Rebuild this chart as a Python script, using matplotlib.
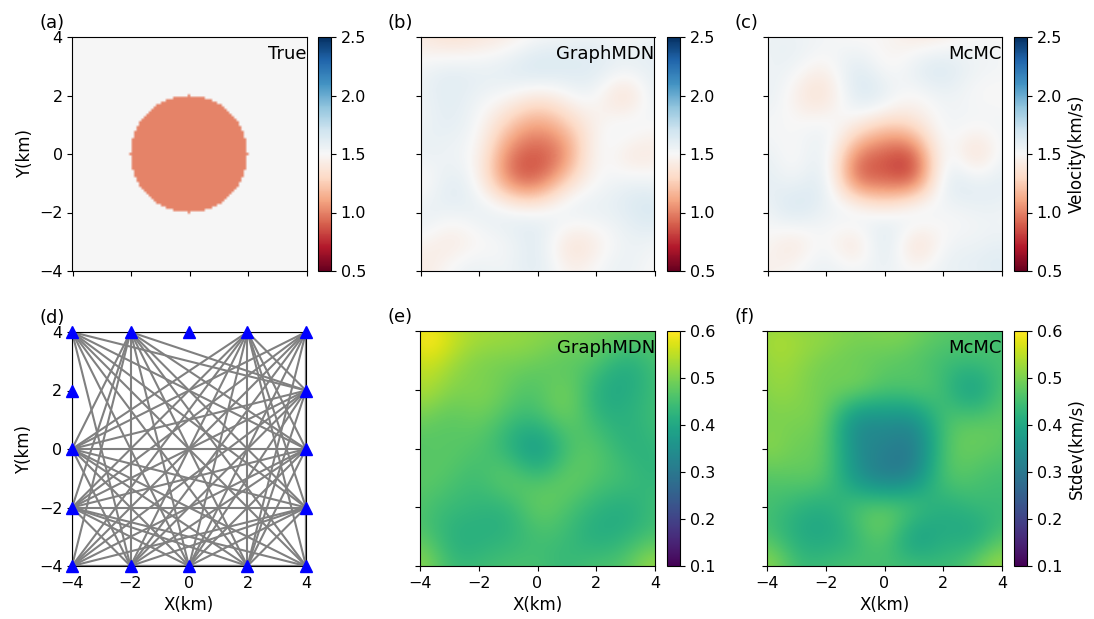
import numpy as np
import matplotlib
matplotlib.use('Agg')
import matplotlib.pyplot as plt
from itertools import combinations

# true model: circular low-velocity anomaly in a constant background
bg_vel = 1.5
anom_vel = 1.0
anom_radius = 2.0
n_true = 97

# node coordinates of the coarse grids below (km), rows go from y=4 down to y=-4
nodes = [-4, -3, -2, -1, 0, 1, 2, 3, 4]

mdn_mean = [
    [1.42, 1.38, 1.40, 1.45, 1.52, 1.55, 1.55, 1.52, 1.55],
    [1.52, 1.55, 1.55, 1.58, 1.62, 1.62, 1.60, 1.55, 1.58],
    [1.55, 1.60, 1.55, 1.48, 1.42, 1.48, 1.50, 1.42, 1.55],
    [1.55, 1.58, 1.48, 1.25, 1.12, 1.25, 1.45, 1.50, 1.50],
    [1.55, 1.55, 1.42, 1.05, 0.92, 1.12, 1.45, 1.46, 1.44],
    [1.50, 1.58, 1.45, 1.12, 1.05, 1.30, 1.50, 1.55, 1.55],
    [1.55, 1.55, 1.55, 1.50, 1.48, 1.52, 1.55, 1.60, 1.63],
    [1.48, 1.45, 1.50, 1.55, 1.58, 1.44, 1.46, 1.55, 1.55],
    [1.43, 1.50, 1.55, 1.55, 1.58, 1.47, 1.50, 1.55, 1.50],
]

mcmc_mean = [
    [1.55, 1.55, 1.52, 1.50, 1.48, 1.44, 1.46, 1.50, 1.50],
    [1.55, 1.52, 1.48, 1.58, 1.52, 1.55, 1.60, 1.55, 1.52],
    [1.55, 1.45, 1.42, 1.58, 1.55, 1.50, 1.55, 1.52, 1.50],
    [1.52, 1.50, 1.50, 1.40, 1.28, 1.32, 1.50, 1.50, 1.52],
    [1.55, 1.52, 1.50, 1.10, 0.93, 1.00, 1.45, 1.43, 1.52],
    [1.58, 1.58, 1.52, 1.12, 1.00, 1.08, 1.50, 1.57, 1.58],
    [1.55, 1.60, 1.55, 1.48, 1.45, 1.48, 1.52, 1.55, 1.55],
    [1.48, 1.46, 1.50, 1.46, 1.57, 1.44, 1.50, 1.55, 1.57],
    [1.46, 1.50, 1.55, 1.52, 1.55, 1.50, 1.55, 1.58, 1.60],
]

mdn_std = [
    [0.58, 0.56, 0.53, 0.52, 0.51, 0.50, 0.49, 0.48, 0.47],
    [0.56, 0.54, 0.51, 0.50, 0.49, 0.48, 0.46, 0.43, 0.45],
    [0.53, 0.51, 0.50, 0.48, 0.47, 0.48, 0.43, 0.41, 0.44],
    [0.49, 0.48, 0.48, 0.45, 0.44, 0.47, 0.44, 0.42, 0.44],
    [0.47, 0.47, 0.46, 0.43, 0.40, 0.45, 0.46, 0.43, 0.43],
    [0.47, 0.46, 0.45, 0.46, 0.45, 0.47, 0.46, 0.44, 0.43],
    [0.46, 0.44, 0.43, 0.44, 0.47, 0.46, 0.43, 0.42, 0.44],
    [0.47, 0.43, 0.42, 0.43, 0.45, 0.44, 0.42, 0.43, 0.46],
    [0.50, 0.45, 0.44, 0.45, 0.45, 0.44, 0.45, 0.47, 0.51],
]

mcmc_std = [
    [0.52, 0.52, 0.51, 0.50, 0.50, 0.49, 0.47, 0.46, 0.45],
    [0.52, 0.52, 0.50, 0.49, 0.48, 0.47, 0.45, 0.44, 0.45],
    [0.51, 0.51, 0.49, 0.47, 0.45, 0.45, 0.44, 0.41, 0.45],
    [0.50, 0.50, 0.47, 0.38, 0.36, 0.37, 0.44, 0.46, 0.47],
    [0.50, 0.49, 0.46, 0.36, 0.32, 0.33, 0.44, 0.48, 0.47],
    [0.47, 0.47, 0.45, 0.38, 0.34, 0.36, 0.44, 0.46, 0.45],
    [0.45, 0.43, 0.42, 0.44, 0.45, 0.43, 0.42, 0.43, 0.44],
    [0.46, 0.42, 0.41, 0.44, 0.46, 0.41, 0.41, 0.42, 0.46],
    [0.50, 0.45, 0.44, 0.45, 0.45, 0.44, 0.44, 0.47, 0.51],
]

# receivers around the boundary; the two listed in 'silent' record no rays
stations_x = [-4, -2, 0, 2, 4, 4, 4, 4, 4, 2, 0, -2, -4, -4, -4, -4]
stations_y = [4, 4, 4, 4, 4, 2, 0, -2, -4, -4, -4, -4, -4, -2, 0, 2]
silent = [(0, 4), (-4, 2)]

vel_ticks = [0.5, 1.0, 1.5, 2.0, 2.5]
std_ticks = [0.1, 0.2, 0.3, 0.4, 0.5, 0.6]
km_ticks = [-4, -2, 0, 2, 4]

W, H = 1094, 619
fig = plt.figure(figsize=(W / 100, H / 100), dpi=100)


def smooth_field(grid, n=240, s=0.78):
    # gaussian rbf through the node values, evaluated on a fine grid
    z = np.array(grid)[::-1].ravel()
    nx, ny = np.meshgrid(nodes, nodes)
    px, py = nx.ravel().astype(float), ny.ravel().astype(float)
    d2 = (px[:, None] - px[None, :])**2 + (py[:, None] - py[None, :])**2
    base = z.mean()
    w = np.linalg.solve(np.exp(-d2 / (2 * s * s)), z - base)
    f = np.linspace(-4, 4, n)
    fx, fy = np.meshgrid(f, f)
    e2 = (fx.ravel()[:, None] - px[None, :])**2 + (fy.ravel()[:, None] - py[None, :])**2
    return (np.exp(-e2 / (2 * s * s)) @ w + base).reshape(n, n)


def px_axes(l, t, r, b):
    return fig.add_axes([l / W, (H - b) / H, (r - l) / W, (b - t) / H])


def style(ax, ylab, xlab):
    ax.set_xlim(-4, 4)
    ax.set_ylim(-4, 4)
    ax.set_xticks(km_ticks)
    ax.set_yticks(km_ticks)
    ax.tick_params(labelsize=11.5)
    if not ylab:
        ax.set_yticklabels([])
    else:
        ax.set_ylabel('Y(km)', fontsize=12)
    if not xlab:
        ax.set_xticklabels([])
    else:
        ax.set_xlabel('X(km)', fontsize=12)


def tag(ax, letter, name=None):
    ax.text(-0.14, 1.02, letter, transform=ax.transAxes, fontsize=13,
            ha='left', va='bottom')
    if name:
        ax.text(1.0, 0.965, name, transform=ax.transAxes, fontsize=13,
                ha='right', va='top')


def cbar(im, l, t, r, b, ticks, label=None):
    cax = px_axes(l, t, r, b)
    cb = fig.colorbar(im, cax=cax, ticks=ticks)
    cb.ax.tick_params(labelsize=11.5)
    if label:
        cb.set_label(label, fontsize=12)
    return cb


def field(ax, grid, cmap, vmin, vmax):
    return ax.imshow(smooth_field(grid), origin='lower', cmap=cmap,
                     vmin=vmin, vmax=vmax, extent=[-4, 4, -4, 4],
                     interpolation='bilinear')


# (a) true model
g = np.linspace(-4, 4, n_true)
gx, gy = np.meshgrid(g, g)
true_v = np.where(gx**2 + gy**2 <= anom_radius**2, anom_vel, bg_vel)
dx = g[1] - g[0]
ax = px_axes(72, 37, 307, 271)
im = ax.imshow(true_v, origin='lower', cmap='RdBu', vmin=0.5, vmax=2.5,
               extent=[-4 - dx / 2, 4 + dx / 2, -4 - dx / 2, 4 + dx / 2],
               interpolation='bilinear')
style(ax, True, False)
tag(ax, '(a)', 'True')
cbar(im, 318, 37, 331, 271, vel_ticks)

# (b) GraphMDN mean
ax = px_axes(420, 37, 655, 271)
im = field(ax, mdn_mean, 'RdBu', 0.5, 2.5)
style(ax, False, False)
tag(ax, '(b)', 'GraphMDN')
cbar(im, 667, 37, 680, 271, vel_ticks)

# (c) McMC mean
ax = px_axes(767, 37, 1002, 271)
im = field(ax, mcmc_mean, 'RdBu', 0.5, 2.5)
style(ax, False, False)
tag(ax, '(c)', 'McMC')
cbar(im, 1014, 37, 1027, 271, vel_ticks, 'Velocity(km/s)')

# (d) ray paths
ax = px_axes(71, 332, 307, 566)
active = [(x, y) for x, y in zip(stations_x, stations_y) if (x, y) not in silent]
for (x0, y0), (x1, y1) in combinations(active, 2):
    ax.plot([x0, x1], [y0, y1], color='gray', lw=1.5, zorder=1)
ax.plot(stations_x, stations_y, '^', color='blue', ms=8, ls='none',
        clip_on=False, zorder=3)
style(ax, True, True)
ax.set_aspect('equal')
tag(ax, '(d)')

# (e) GraphMDN stdev
ax = px_axes(420, 331, 655, 566)
im = field(ax, mdn_std, 'viridis', 0.1, 0.6)
style(ax, False, True)
tag(ax, '(e)', 'GraphMDN')
cbar(im, 667, 331, 680, 566, std_ticks)

# (f) McMC stdev
ax = px_axes(767, 331, 1002, 566)
im = field(ax, mcmc_std, 'viridis', 0.1, 0.6)
style(ax, False, True)
tag(ax, '(f)', 'McMC')
cbar(im, 1014, 331, 1027, 566, std_ticks, 'Stdev(km/s)')

fig.savefig('out.png', dpi=100)
